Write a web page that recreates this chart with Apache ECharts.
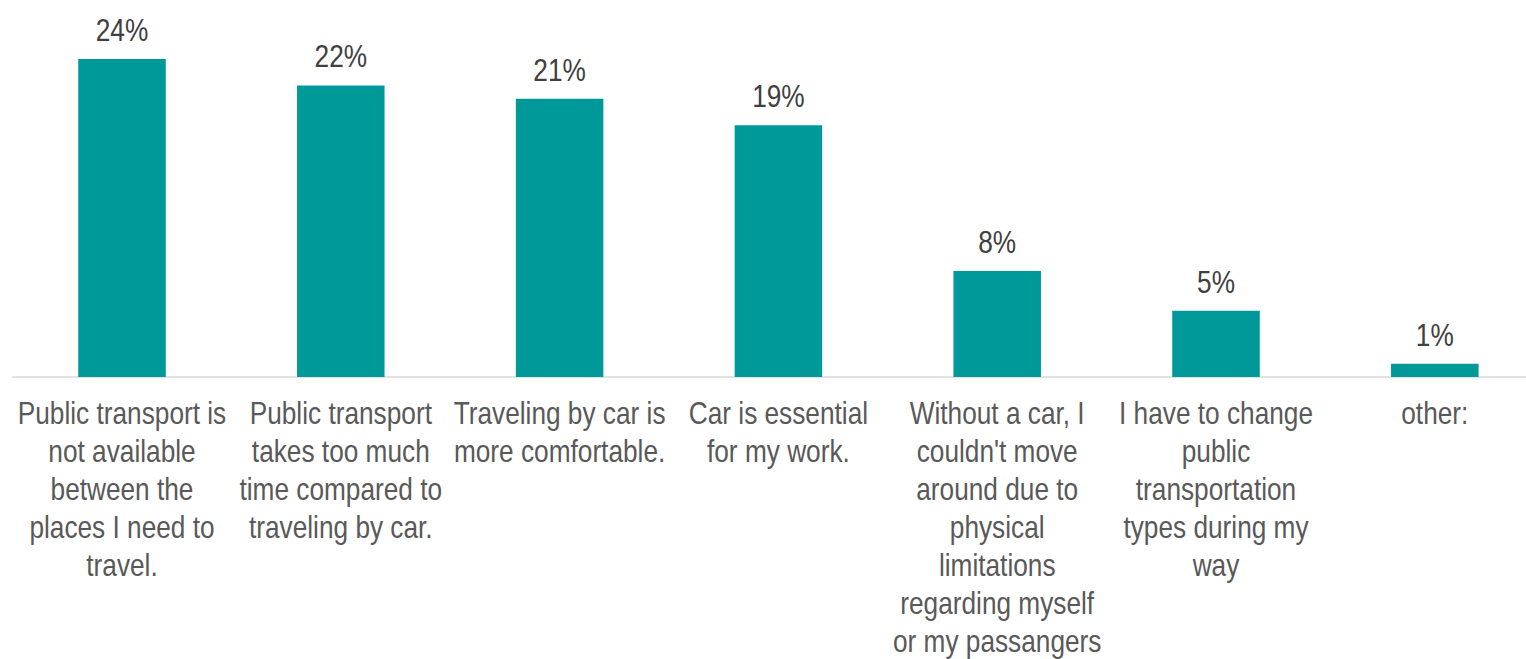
<!DOCTYPE html>
<html>
<head>
<meta charset="utf-8">
<title>Reasons for traveling by car</title>
<script src="https://cdn.jsdelivr.net/npm/echarts@6/dist/echarts.min.js"></script>
<style>
  html, body { margin: 0; padding: 0; background: #ffffff; overflow: hidden; }
  #frame { width: 1526px; height: 659px; overflow: hidden; position: relative; }
  /* The chart is laid out wider and squeezed horizontally so the
     regular sans face reads like a narrow one. */
  #chart { height: 659px; position: absolute; left: 0; top: 0; transform-origin: 0 0; }
</style>
</head>
<body>
<div id="frame"><div id="chart"></div></div>
<script>
// Answer options, wrapped the way they are printed under each bar
const categories = [
  'Public transport is\nnot available\nbetween the\nplaces I need to\ntravel.',
  'Public transport\ntakes too much\ntime compared to\ntraveling by car.',
  'Traveling by car is\nmore comfortable.',
  'Car is essential\nfor my work.',
  'Without a car, I\ncouldn\'t move\naround due to\nphysical\nlimitations\nregarding myself\nor my passangers',
  'I have to change\npublic\ntransportation\ntypes during my\nway',
  'other:'
];

// Share of respondents, in percent
const shares = [24, 22, 21, 19, 8, 5, 1];

const FONT = '"Liberation Sans", Arial, Helvetica, sans-serif';

// Horizontal squeeze factor (narrow face ≈ 82% of the regular width)
const SQUEEZE = 0.82;
const VIEW_W = 1526;
const WIDE_W = VIEW_W / SQUEEZE;

const el = document.getElementById('chart');
el.style.width = WIDE_W + 'px';
el.style.transform = 'scaleX(' + SQUEEZE + ')';

// Plot area in on-screen pixels, converted to the widened layout
const plotLeft = 12.6 / SQUEEZE;
const plotWidth = (218.8 * categories.length) / SQUEEZE;

const chart = echarts.init(el, null, { renderer: 'svg', width: WIDE_W, height: 659 });

chart.setOption({
  animation: false,
  backgroundColor: '#ffffff',
  grid: {
    left: plotLeft,
    width: plotWidth,
    top: 45.75,
    bottom: 282,
    outerBoundsMode: 'none',
    containLabel: false
  },
  xAxis: {
    type: 'category',
    data: categories,
    axisLine: { show: true, lineStyle: { color: '#d9d9d9', width: 1.5 } },
    axisTick: { show: false },
    axisLabel: {
      interval: 0,
      hideOverlap: false,
      margin: 17,
      color: '#595959',
      fontFamily: FONT,
      fontSize: 32,
      lineHeight: 38,
      align: 'center'
    },
    splitLine: { show: false }
  },
  yAxis: {
    type: 'value',
    min: 0,
    max: 25,
    show: false,
    splitLine: { show: false }
  },
  series: [{
    type: 'bar',
    data: shares,
    barCategoryGap: '60%',
    itemStyle: { color: '#009999' },
    label: {
      show: true,
      position: 'top',
      distance: 13,
      color: '#404040',
      fontFamily: FONT,
      fontSize: 32,
      formatter: p => p.value + '%'
    }
  }]
});
</script>
</body>
</html>
